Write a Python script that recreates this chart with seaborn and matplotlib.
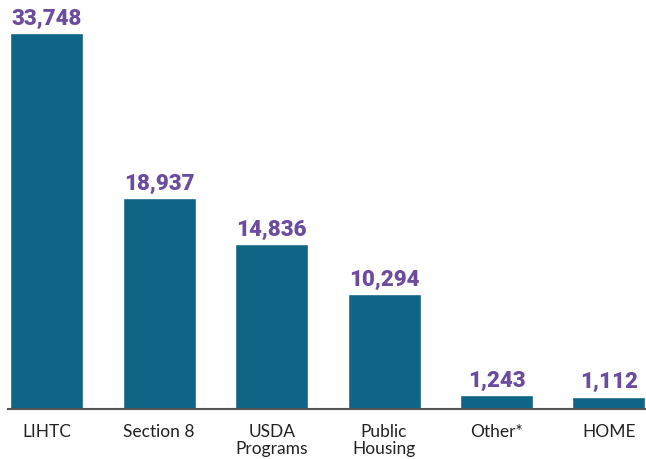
import matplotlib
matplotlib.use("Agg")
import matplotlib.pyplot as plt
import seaborn as sns
import pandas as pd

programs = ["LIHTC", "Section 8", "USDA\nPrograms", "Public\nHousing", "Other*", "HOME"]
units = [33748, 18937, 14836, 10294, 1243, 1112]

sns.set_style("white")
plt.rcParams["font.family"] = ["Lato", "DejaVu Sans"]

df = pd.DataFrame({"program": programs, "units": units})

fig = plt.figure(figsize=(6.46, 4.6), dpi=100)
ax = fig.add_axes([8 / 646, 50 / 460, 638 / 646, 410 / 460])
sns.barplot(data=df, x="program", y="units", color="#0e6585", saturation=1,
            width=0.65, ax=ax)

for i, v in enumerate(units):
    ax.annotate(f"{v:,}", (i, v), xytext=(0, 3), textcoords="offset points",
                ha="center", va="bottom", fontsize=16, fontweight="black",
                color="#6b4c9e", family=["Roboto", "DejaVu Sans"])

ax.set_xlim(-0.345, 5.33)
ax.set_ylim(0, 36800)
ax.set_xlabel("")
ax.set_ylabel("")
ax.set_yticks([])
for s in ["top", "right", "left"]:
    ax.spines[s].set_visible(False)
ax.spines["bottom"].set_color("#555555")
ax.spines["bottom"].set_linewidth(1.5)
ax.tick_params(axis="x", length=0, pad=10, labelsize=12.5, colors="#222222")
for t in ax.get_xticklabels():
    t.set_linespacing(1.05)

fig.savefig("out.png", dpi=100)
